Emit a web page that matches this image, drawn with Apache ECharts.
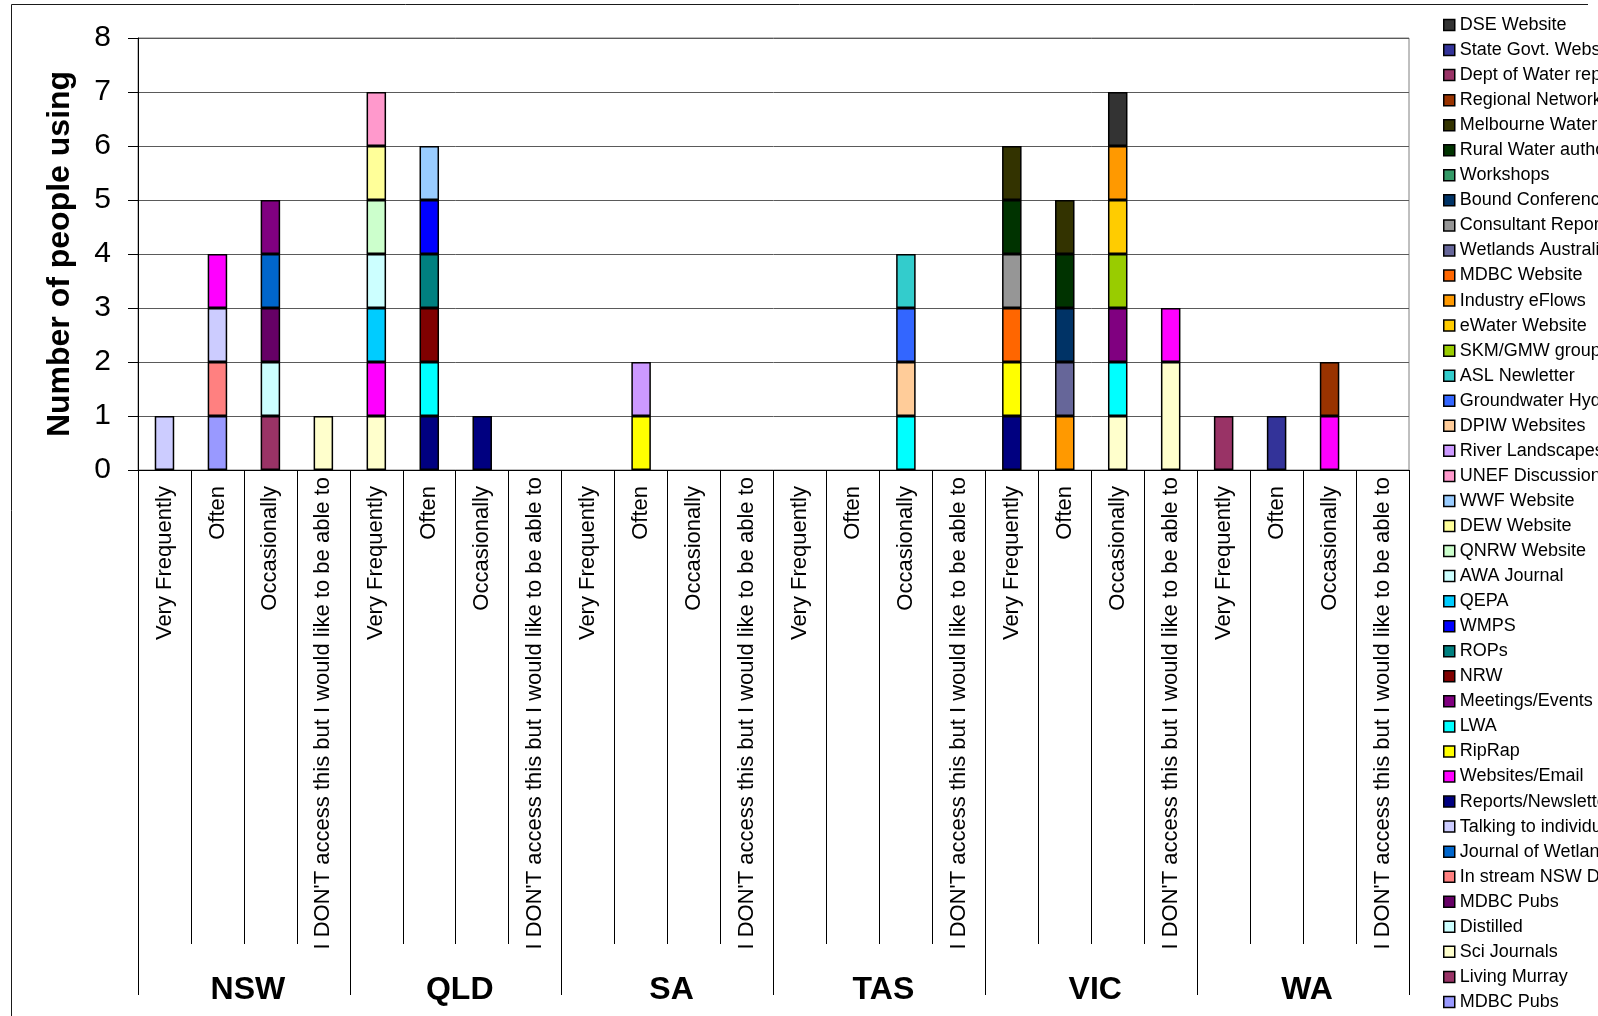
<!DOCTYPE html>
<html>
<head>
<meta charset="utf-8">
<title>Number of people using each information source</title>
<script src="https://cdn.jsdelivr.net/npm/echarts@6/dist/echarts.min.js"></script>
<style>
  html, body { margin: 0; padding: 0; background: #ffffff; }
  #chart { width: 1598px; height: 1016px; }
</style>
</head>
<body>
<div id="chart"></div>
<script>
// Survey groups and answer categories
const states = ['NSW', 'QLD', 'SA', 'TAS', 'VIC', 'WA'];
const frequencies = ['Very Frequently', 'Often', 'Occasionally', "I DON'T access this but I would like to be able to"];

// Information sources, stacked from the bottom up
const seriesNames = [
  'MDBC Pubs', 'Living Murray', 'Sci Journals', 'Distilled', 'MDBC Pubs ',
  'In stream NSW DNR', 'Journal of Wetlands', 'Talking to individuals', 'Reports/Newsletters', 'Websites/Email',
  'RipRap', 'LWA', 'Meetings/Events', 'NRW', 'ROPs',
  'WMPS', 'QEPA', 'AWA Journal', 'QNRW Website', 'DEW Website',
  'WWF Website', 'UNEF Discussion', 'River Landscapes', 'DPIW Websites', 'Groundwater Hydrology',
  'ASL Newletter', 'SKM/GMW group', 'eWater Website', 'Industry eFlows', 'MDBC Website',
  'Wetlands Australia', 'Consultant Reports', 'Bound Conference Proceedings', 'Workshops', 'Rural Water authorities',
  'Melbourne Water', 'Regional Network', 'Dept of Water reports', 'State Govt. Websites', 'DSE Website'
];

const seriesColors = [
  '#9999FF', '#993366', '#FFFFCC', '#CCFFFF', '#660066',
  '#FF8080', '#0066CC', '#CCCCFF', '#000080', '#FF00FF',
  '#FFFF00', '#00FFFF', '#800080', '#800000', '#008080',
  '#0000FF', '#00CCFF', '#CCFFFF', '#CCFFCC', '#FFFF99',
  '#99CCFF', '#FF99CC', '#CC99FF', '#FFCC99', '#3366FF',
  '#33CCCC', '#99CC00', '#FFCC00', '#FF9900', '#FF6600',
  '#666699', '#969696', '#003366', '#339966', '#003300',
  '#333300', '#993300', '#993366', '#333399', '#333333'
];

// Counts per source: NSW | QLD | SA | TAS | VIC | WA, four answers each
const mdbcPubsA        = [0,1,0,0, 0,0,0,0, 0,0,0,0, 0,0,0,0, 0,0,0,0, 0,0,0,0];
const livingMurray     = [0,0,1,0, 0,0,0,0, 0,0,0,0, 0,0,0,0, 0,0,0,0, 0,0,0,0];
const sciJournals      = [0,0,0,1, 1,0,0,0, 0,0,0,0, 0,0,0,0, 0,0,1,2, 0,0,0,0];
const distilled        = [0,0,1,0, 0,0,0,0, 0,0,0,0, 0,0,0,0, 0,0,0,0, 0,0,0,0];
const mdbcPubsB        = [0,0,1,0, 0,0,0,0, 0,0,0,0, 0,0,0,0, 0,0,0,0, 0,0,0,0];
const inStreamNsw      = [0,1,0,0, 0,0,0,0, 0,0,0,0, 0,0,0,0, 0,0,0,0, 0,0,0,0];
const journalWetlands  = [0,0,1,0, 0,0,0,0, 0,0,0,0, 0,0,0,0, 0,0,0,0, 0,0,0,0];
const talking          = [1,1,0,0, 0,0,0,0, 0,0,0,0, 0,0,0,0, 0,0,0,0, 0,0,0,0];
const reports          = [0,0,0,0, 0,1,1,0, 0,0,0,0, 0,0,0,0, 1,0,0,0, 0,0,0,0];
const websitesEmail    = [0,1,0,0, 1,0,0,0, 0,0,0,0, 0,0,0,0, 0,0,0,1, 0,0,1,0];
const ripRap           = [0,0,0,0, 0,0,0,0, 0,1,0,0, 0,0,0,0, 1,0,0,0, 0,0,0,0];
const lwa              = [0,0,0,0, 0,1,0,0, 0,0,0,0, 0,0,1,0, 0,0,1,0, 0,0,0,0];
const meetings         = [0,0,1,0, 0,0,0,0, 0,0,0,0, 0,0,0,0, 0,0,1,0, 0,0,0,0];
const nrw              = [0,0,0,0, 0,1,0,0, 0,0,0,0, 0,0,0,0, 0,0,0,0, 0,0,0,0];
const rops             = [0,0,0,0, 0,1,0,0, 0,0,0,0, 0,0,0,0, 0,0,0,0, 0,0,0,0];
const wmps             = [0,0,0,0, 0,1,0,0, 0,0,0,0, 0,0,0,0, 0,0,0,0, 0,0,0,0];
const qepa             = [0,0,0,0, 1,0,0,0, 0,0,0,0, 0,0,0,0, 0,0,0,0, 0,0,0,0];
const awaJournal       = [0,0,0,0, 1,0,0,0, 0,0,0,0, 0,0,0,0, 0,0,0,0, 0,0,0,0];
const qnrwWebsite      = [0,0,0,0, 1,0,0,0, 0,0,0,0, 0,0,0,0, 0,0,0,0, 0,0,0,0];
const dewWebsite       = [0,0,0,0, 1,0,0,0, 0,0,0,0, 0,0,0,0, 0,0,0,0, 0,0,0,0];
const wwfWebsite       = [0,0,0,0, 0,1,0,0, 0,0,0,0, 0,0,0,0, 0,0,0,0, 0,0,0,0];
const unefDiscussion   = [0,0,0,0, 1,0,0,0, 0,0,0,0, 0,0,0,0, 0,0,0,0, 0,0,0,0];
const riverLandscapes  = [0,0,0,0, 0,0,0,0, 0,1,0,0, 0,0,0,0, 0,0,0,0, 0,0,0,0];
const dpiwWebsites     = [0,0,0,0, 0,0,0,0, 0,0,0,0, 0,0,1,0, 0,0,0,0, 0,0,0,0];
const groundwater      = [0,0,0,0, 0,0,0,0, 0,0,0,0, 0,0,1,0, 0,0,0,0, 0,0,0,0];
const aslNewletter     = [0,0,0,0, 0,0,0,0, 0,0,0,0, 0,0,1,0, 0,0,0,0, 0,0,0,0];
const skmGmw           = [0,0,0,0, 0,0,0,0, 0,0,0,0, 0,0,0,0, 0,0,1,0, 0,0,0,0];
const eWater           = [0,0,0,0, 0,0,0,0, 0,0,0,0, 0,0,0,0, 0,0,1,0, 0,0,0,0];
const industryEflows   = [0,0,0,0, 0,0,0,0, 0,0,0,0, 0,0,0,0, 0,1,1,0, 0,0,0,0];
const mdbcWebsite      = [0,0,0,0, 0,0,0,0, 0,0,0,0, 0,0,0,0, 1,0,0,0, 0,0,0,0];
const wetlandsAust     = [0,0,0,0, 0,0,0,0, 0,0,0,0, 0,0,0,0, 0,1,0,0, 0,0,0,0];
const consultant       = [0,0,0,0, 0,0,0,0, 0,0,0,0, 0,0,0,0, 1,0,0,0, 0,0,0,0];
const boundConference  = [0,0,0,0, 0,0,0,0, 0,0,0,0, 0,0,0,0, 0,1,0,0, 0,0,0,0];
const workshops        = [0,0,0,0, 0,0,0,0, 0,0,0,0, 0,0,0,0, 0,0,0,0, 0,0,0,0];
const ruralWater       = [0,0,0,0, 0,0,0,0, 0,0,0,0, 0,0,0,0, 1,1,0,0, 0,0,0,0];
const melbourneWater   = [0,0,0,0, 0,0,0,0, 0,0,0,0, 0,0,0,0, 1,1,0,0, 0,0,0,0];
const regionalNetwork  = [0,0,0,0, 0,0,0,0, 0,0,0,0, 0,0,0,0, 0,0,0,0, 0,0,1,0];
const deptWater        = [0,0,0,0, 0,0,0,0, 0,0,0,0, 0,0,0,0, 0,0,0,0, 1,0,0,0];
const stateGovt        = [0,0,0,0, 0,0,0,0, 0,0,0,0, 0,0,0,0, 0,0,0,0, 0,1,0,0];
const dseWebsite       = [0,0,0,0, 0,0,0,0, 0,0,0,0, 0,0,0,0, 0,0,1,0, 0,0,0,0];

const seriesValues = [
  mdbcPubsA, livingMurray, sciJournals, distilled, mdbcPubsB,
  inStreamNsw, journalWetlands, talking, reports, websitesEmail,
  ripRap, lwa, meetings, nrw, rops,
  wmps, qepa, awaJournal, qnrwWebsite, dewWebsite,
  wwfWebsite, unefDiscussion, riverLandscapes, dpiwWebsites, groundwater,
  aslNewletter, skmGmw, eWater, industryEflows, mdbcWebsite,
  wetlandsAust, consultant, boundConference, workshops, ruralWater,
  melbourneWater, regionalNetwork, deptWater, stateGovt, dseWebsite
];

const yTicks = { min: 0, max: 8, interval: 1 };

// One bar per state/answer pair
const categories = [];
states.forEach(() => frequencies.forEach(f => categories.push(f)));

const FONT = '"Liberation Sans", Arial, sans-serif';
const LONG_LABEL = frequencies[3];

const series = seriesNames.map((name, i) => ({
  name: name,
  type: 'bar',
  stack: 'users',
  xAxisIndex: 0,
  barWidth: 19.5,
  itemStyle: { color: seriesColors[i], borderColor: '#000000', borderWidth: 1.5 },
  emphasis: { disabled: true },
  // empty cells are left out so they draw nothing
  data: seriesValues[i].map(v => (v === 0 ? '-' : v))
}));

const chart = echarts.init(document.getElementById('chart'), null, { renderer: 'canvas' });

chart.setOption({
  backgroundColor: '#ffffff',
  animation: false,
  textStyle: { fontFamily: FONT },
  grid: {
    left: 138, top: 38, width: 1271, height: 432,
    show: true, borderColor: '#808080', borderWidth: 1, backgroundColor: 'transparent'
  },
  legend: {
    orient: 'vertical',
    left: 1443,
    top: 16,
    height: 1001,
    padding: 0,
    itemGap: 7.05,
    itemWidth: 11,
    itemHeight: 11,
    icon: 'rect',
    selectedMode: false,
    itemStyle: { borderColor: '#000000', borderWidth: 1.5 },
    textStyle: { fontFamily: FONT, fontSize: 18, color: '#000000', lineHeight: 18, padding: [0, 0, 0, 0] },
    data: seriesNames.slice().reverse()
  },
  xAxis: [
    {
      type: 'category',
      data: categories,
      position: 'bottom',
      axisLine: { show: true, lineStyle: { color: '#000000', width: 1 } },
      axisTick: { show: true, interval: 0, length: 474, lineStyle: { color: '#000000', width: 1 } },
      axisLabel: {
        interval: 0, rotate: 90, margin: 7,
        fontFamily: FONT, fontSize: 22, color: '#000000',
        // shorter answers sit a little further from the axis
        formatter: v => (v === LONG_LABEL ? '{l|' + v + '}' : '{s|' + v + '}'),
        rich: {
          l: { fontFamily: FONT, fontSize: 22, color: '#000000' },
          s: { fontFamily: FONT, fontSize: 22, color: '#000000', padding: [0, 9, 0, 0] }
        }
      },
      splitLine: { show: false }
    },
    {
      type: 'category',
      data: states,
      position: 'bottom',
      axisLine: { show: true, lineStyle: { color: '#000000', width: 1 } },
      axisTick: { show: true, interval: 0, length: 525, lineStyle: { color: '#000000', width: 1 } },
      axisLabel: {
        interval: 0, margin: 504,
        fontFamily: FONT, fontSize: 32, fontWeight: 'bold', color: '#000000',
        padding: [0, 0, 0, 8]
      },
      splitLine: { show: false }
    }
  ],
  yAxis: {
    type: 'value',
    min: yTicks.min, max: yTicks.max, interval: yTicks.interval,
    name: 'Number of people using',
    nameLocation: 'middle',
    nameRotate: 90,
    nameGap: 62,
    nameTextStyle: { fontFamily: FONT, fontSize: 32, fontWeight: 'bold', color: '#000000' },
    axisLine: { show: true, lineStyle: { color: '#000000', width: 1 } },
    axisTick: { show: true, length: 10, lineStyle: { color: '#000000', width: 1 } },
    axisLabel: { margin: 27, fontFamily: FONT, fontSize: 30, color: '#000000' },
    splitLine: { show: true, lineStyle: { color: '#5a5a5a', width: 1 } }
  },
  graphic: [
    {
      type: 'polyline',
      silent: true,
      shape: { points: [[11.5, 1030], [11.5, 4.5], [1588, 4.5]] },
      style: { stroke: '#1a1a1a', lineWidth: 1, fill: null }
    }
  ],
  series: series
});
</script>
</body>
</html>
